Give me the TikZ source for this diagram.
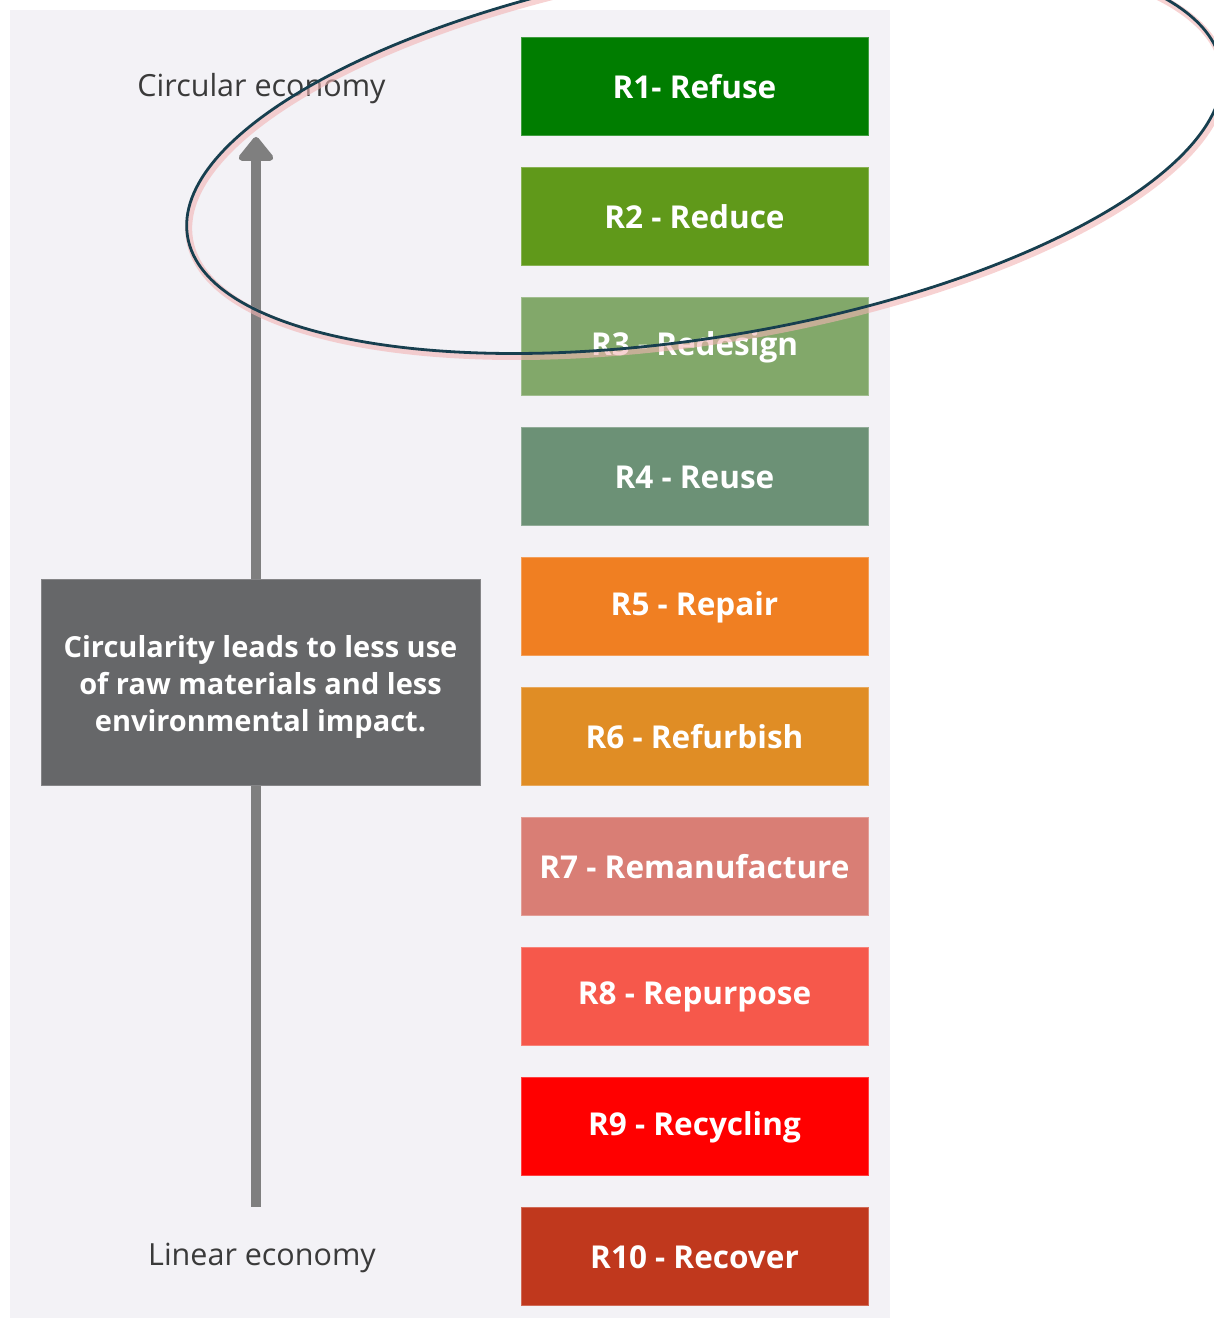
\documentclass[tikz,border=0pt]{standalone}
\usepackage{fontspec}
\setmainfont{Open Sans}
\usetikzlibrary{arrows.meta}
\definecolor{panel}{HTML}{F3F2F6}
\definecolor{cA}{HTML}{007D00}
\definecolor{cB}{HTML}{60991A}
\definecolor{cC}{HTML}{82A86A}
\definecolor{cD}{HTML}{6C9176}
\definecolor{cE}{HTML}{F07F22}
\definecolor{cF}{HTML}{E08D25}
\definecolor{cG}{HTML}{D97E75}
\definecolor{cH}{HTML}{F6584B}
\definecolor{cI}{HTML}{FF0000}
\definecolor{cJ}{HTML}{C0381D}
\definecolor{greybox}{HTML}{666769}
\definecolor{arrowgrey}{HTML}{7F7F7F}
\definecolor{labelgrey}{HTML}{3A3A3A}
\definecolor{ringcol}{HTML}{173F4F}
\definecolor{glowcol}{HTML}{F2B4B4}
\begin{document}
\begin{tikzpicture}[x=1pt,y=1pt,
  rbox/.style={minimum width=347pt,minimum height=98pt,inner sep=0pt,text=white,
    font=\bfseries\fontsize{31.5}{36}\selectfont, fill=#1, draw=#1!75!white, line width=1pt},
  econlabel/.style={text=labelgrey,font=\fontsize{30.5}{36}\selectfont,inner sep=0pt},
  notebox/.style={fill=greybox,draw=greybox!80!white,line width=1pt,minimum width=439pt,
    minimum height=206pt,inner sep=0pt,text=white,align=center,
    font=\bfseries\fontsize{29}{37}\selectfont},
  arrowline/.style={draw=arrowgrey,line width=10pt,-{Triangle[width=40pt,length=26pt,round]}},
  glow/.style={draw=glowcol,line width=7pt,opacity=0.6},
  ring/.style={draw=ringcol,line width=2.8pt}]
\useasboundingbox (0,0) rectangle (1214,1319);
\clip (0,0) rectangle (1214,1319);
\fill[panel] (10,1) rectangle (890,1309);

\node[rbox=cA] (r1) at (694.5,1232) {R1- Refuse};
\node[rbox=cB] (r2) at (694.5,1102) {R2 - Reduce};
\node[rbox=cC] (r3) at (694.5,972) {R3 - Redesign};
\node[rbox=cD] (r4) at (694.5,842) {R4 - Reuse};
\node[rbox=cE] (r5) at (694.5,712) {R5 - Repair};
\node[rbox=cF] (r6) at (694.5,582) {R6 - Refurbish};
\node[rbox=cG] (r7) at (694.5,452) {R7 - Remanufacture};
\node[rbox=cH] (r8) at (694.5,322) {R8 - Repurpose};
\node[rbox=cI] (r9) at (694.5,192) {R9 - Recycling};
\node[rbox=cJ] (r10) at (694.5,62) {R10 - Recover};

\node[econlabel] (circ) at (261.5,1230) {Circular economy};
\node[econlabel] (lin) at (262,61) {Linear economy};

\coordinate (abot) at (256,112);
\coordinate (atop) at (256,1182);
\draw[arrowline] (abot) -- (atop);

\node[notebox] (note) at (260.5,636) {};
\node[text=white,align=center,font=\bfseries\fontsize{29}{37}\selectfont,inner sep=0pt]
  (notetext) at (260.5,632) {Circularity leads to less use\\of raw materials and less\\environmental impact.};

\draw[glow,shift={(2,-3)},rotate around={9.4:(704.5,1168)}] (704.5,1168) ellipse [x radius=524pt, y radius=186pt];
\draw[ring,rotate around={9.4:(704.5,1168)}] (704.5,1168) ellipse [x radius=524pt, y radius=186pt];
\end{tikzpicture}
\end{document}
